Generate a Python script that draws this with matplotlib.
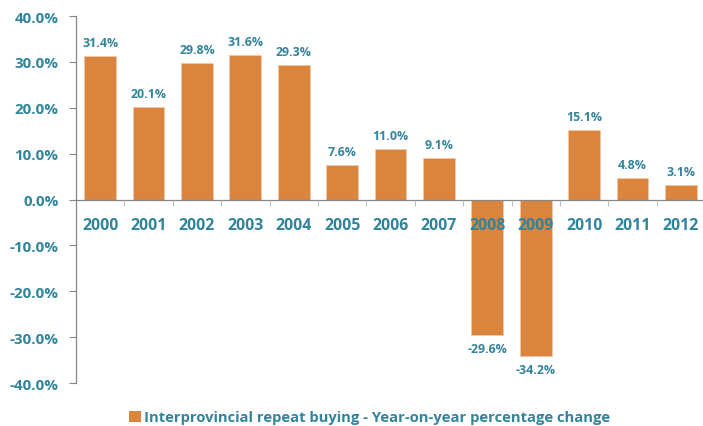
import matplotlib.pyplot as plt
from matplotlib.patches import Patch

years = ["2000", "2001", "2002", "2003", "2004", "2005", "2006",
         "2007", "2008", "2009", "2010", "2011", "2012"]
changes = [31.4, 20.1, 29.8, 31.6, 29.3, 7.6, 11.0, 9.1, -29.6, -34.2, 15.1, 4.8, 3.1]
y_ticks = [-40, -30, -20, -10, 0, 10, 20, 30, 40]
legend_label = "Interprovincial repeat buying - Year-on-year percentage change"

bar_color = "#DA843E"
text_color = "#31849B"
axis_color = "#868686"

plt.rcParams["font.family"] = ["Open Sans", "DejaVu Sans"]

fig = plt.figure(figsize=(7.03, 4.27), dpi=100)
ax = fig.add_axes([0.108, 0.1007, 0.895, 0.8593])

x = list(range(len(years)))
ax.bar(x, changes, width=0.66, color=bar_color, edgecolor="#F3C9A6",
       linewidth=0.6, zorder=2)

# value labels above / below bars
for xi, v in zip(x, changes):
    off = 5 if v >= 0 else -5
    va = "bottom" if v >= 0 else "top"
    ax.annotate(f"{v:.1f}%", (xi, v), xytext=(0, off), textcoords="offset points",
                ha="center", va=va, fontsize=8.9, fontweight="bold",
                color=text_color, zorder=3)

ax.set_xlim(-0.5, len(years) - 0.5)
ax.set_ylim(-40, 40)

# y axis
ax.set_yticks(y_ticks)
ax.set_yticklabels([f"{t:.1f}%" for t in y_ticks])
ax.tick_params(axis="y", direction="out", length=5, width=0.8, color=axis_color,
               pad=7.5, labelsize=10.9, labelcolor=text_color)
for lab in ax.get_yticklabels():
    lab.set_fontweight("bold")

# x axis at zero, labels drawn over the bars
ax.spines["bottom"].set_position(("data", 0))
ax.xaxis.set_zorder(3)
ax.set_xticks(x)
ax.set_xticklabels(years)
ax.set_xticks([i - 0.5 for i in range(1, len(years))], minor=True)
ax.tick_params(axis="x", which="major", length=0, pad=12.3, labelsize=11.4,
               labelcolor=text_color)
ax.tick_params(axis="x", which="minor", direction="out", length=4, width=0.8,
               color="#BFBFBF")
for lab in ax.get_xticklabels():
    lab.set_fontweight("bold")

ax.spines["top"].set_visible(False)
ax.spines["right"].set_visible(False)
ax.spines["left"].set_color(axis_color)
ax.spines["bottom"].set_color(axis_color)
ax.spines["left"].set_linewidth(0.9)
ax.spines["bottom"].set_linewidth(0.9)

leg = fig.legend(handles=[Patch(facecolor=bar_color, label=legend_label)],
                 loc="center", bbox_to_anchor=(0.526, 0.02), frameon=False,
                 handlelength=0.8, handleheight=0.8, handletextpad=0.25,
                 prop={"size": 10.6, "weight": "bold"})
for t in leg.get_texts():
    t.set_color(text_color)

plt.savefig("out.png", dpi=100)
